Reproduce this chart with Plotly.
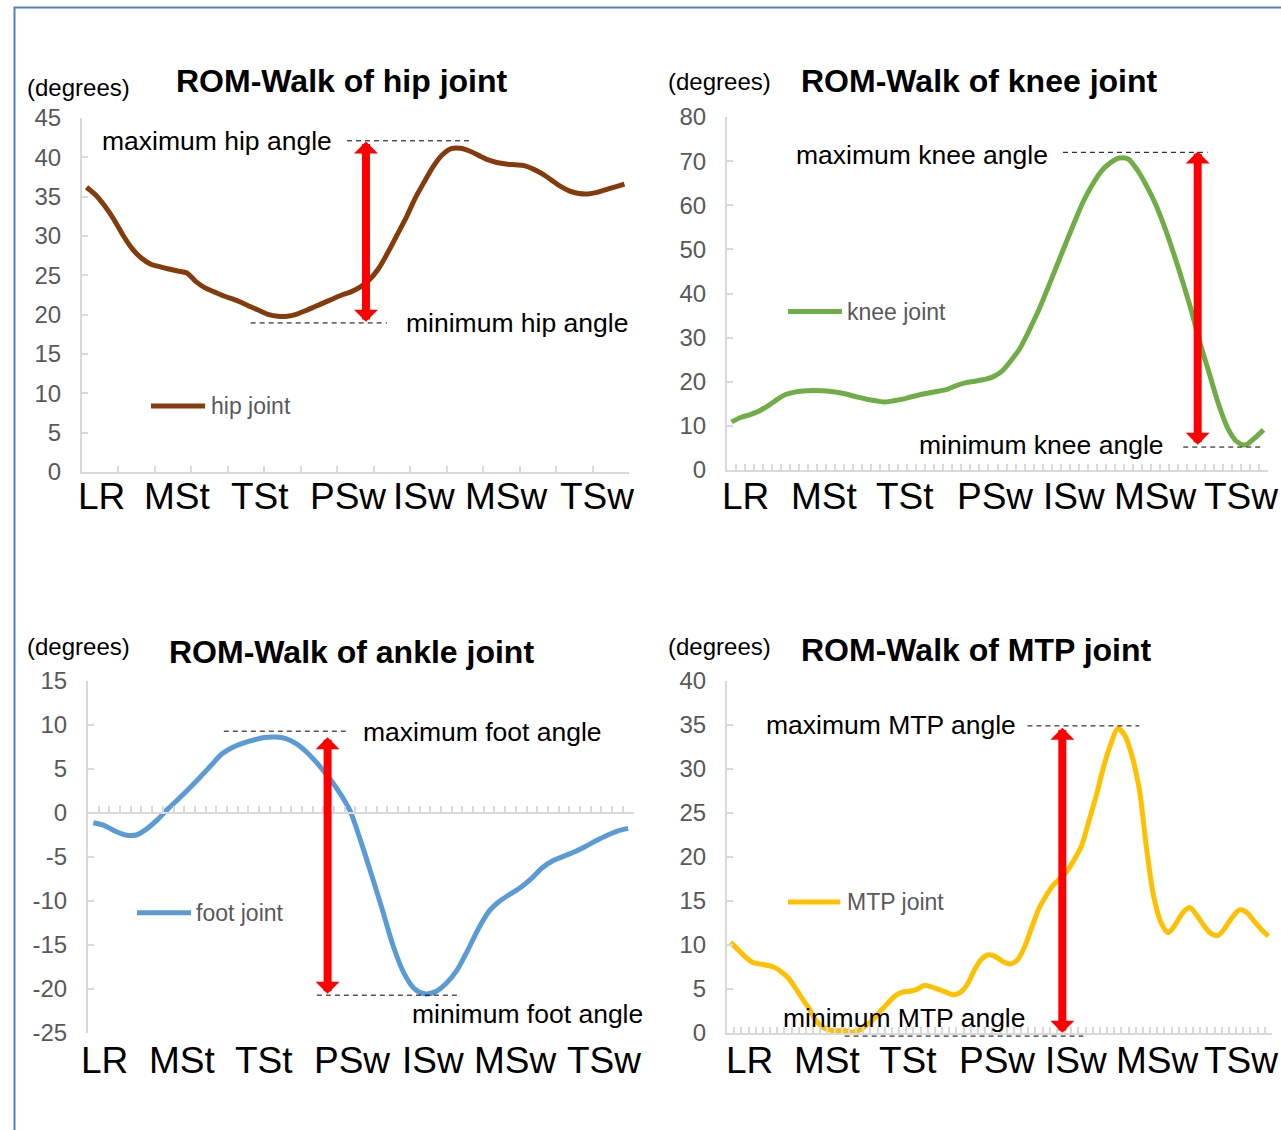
import plotly.graph_objects as go

W, H = 1281, 1130
FONT = "Liberation Sans, Arial, sans-serif"
AXIS_GREY = "#d9d9d9"
TICK_GREY = "#595959"
ARROW_RED = "#ff0000"

# gait phases written under every horizontal axis
PHASES = ["LR", "MSt", "TSt", "PSw", "ISw", "MSw", "TSw"]

# joint angles (degrees) over one gait cycle
HIP = [36.2, 35.2, 33.8, 32.1, 30.1, 28.4, 27.2, 26.45, 26.1, 25.8,
       25.55, 25.3, 24.2, 23.4, 22.9, 22.4, 22.0, 21.55, 21.0, 20.5,
       20.0, 19.8, 19.8, 20.05, 20.5, 21.0, 21.5, 22.0, 22.5, 22.9,
       23.5, 24.4, 25.8, 27.8, 30.0, 32.2, 34.7, 36.8, 38.8, 40.3,
       41.1, 41.15, 40.8, 40.25, 39.7, 39.35, 39.15, 39.05, 38.95, 38.5,
       37.9, 37.1, 36.3, 35.7, 35.4, 35.35, 35.55, 35.9, 36.25, 36.6]

KNEE = [10.9, 11.9, 12.5, 13.3, 14.5, 15.9, 17.1, 17.65, 17.9, 18.0,
        17.95, 17.8, 17.5, 17.05, 16.5, 16.05, 15.7, 15.4, 15.7, 16.05,
        16.6, 17.1, 17.5, 17.9, 18.35, 19.2, 19.8, 20.1, 20.5, 21.1,
        22.4, 24.8, 27.6, 31.6, 35.9, 40.8, 45.9, 51.0, 56.0, 60.8,
        64.6, 67.7, 69.6, 70.7, 70.5, 68.0, 64.5, 60.4, 55.2, 49.3,
        42.9, 36.1, 28.5, 21.8, 15.0, 9.6, 6.5, 5.7, 7.2, 9.1]

ANKLE = [-1.1, -1.4, -2.05, -2.5, -2.5, -1.8, -0.76, 0.5, 1.65, 2.85,
         4.1, 5.4, 6.7, 7.45, 7.95, 8.3, 8.57, 8.63, 8.45, 7.85,
         6.85, 5.55, 4.05, 2.35, 0.25, -3.2, -7.0, -10.9, -15.0, -18.1,
         -19.95, -20.55, -20.3, -19.35, -17.85, -15.6, -13.15, -11.15, -10.0, -9.2,
         -8.4, -7.4, -6.2, -5.4, -4.9, -4.4, -3.8, -3.15, -2.55, -2.05,
         -1.75]

MTP = [10.3, 9.5, 8.7, 8.05, 7.85, 7.7, 7.5, 7.0, 6.3, 5.15,
       3.9, 2.7, 1.3, 0.6, 0.3, 0.25, 0.25, 0.1, 0.35, 0.9,
       1.65, 2.6, 3.45, 4.25, 4.65, 4.75, 4.95, 5.4, 5.25, 4.95,
       4.65, 4.35, 4.6, 5.5, 7.15, 8.4, 8.9, 8.65, 8.1, 7.85,
       8.3, 9.8, 12.0, 14.15, 15.6, 16.8, 17.6, 18.5, 19.8, 21.4,
       24.2, 27.0, 30.2, 32.8, 34.6, 33.8, 31.4, 27.7, 21.0, 15.5,
       12.6, 11.4, 12.3, 13.6, 14.25, 13.4, 12.2, 11.3, 11.1, 12.0,
       13.2, 14.0, 13.7, 12.7, 11.8, 11.0]

# range-of-motion markers (degrees) for each joint: (minimum level, maximum level)
HIP_ROM = (18.95, 42.1)
KNEE_ROM = (5.2, 72.0)
ANKLE_ROM = (-20.7, 9.3)
MTP_ROM = (-0.35, 34.9)

# panel layout: plot box in pixels (left, top, right, bottom) and label placement
PANELS = [
    dict(title="ROM-Walk of hip joint", values=HIP, color="#843C0C", name="hip joint",
         joint="hip", rom=HIP_ROM, box=(82, 118, 629, 472), yrange=(0, 45), dtick=5, xstep=4,
         title_xy=(342, 81), deg_xy=(78, 88),
         phase_y=497, phase_x=[101, 178, 260, 348, 424, 506, 597],
         max_text=(1.97, 42.1), min_text=(35.3, 19.0),
         arrow_x=31.15, arrow_tips=(18.9, 42.0),
         max_dash=(29.07, 42.9), min_dash=(18.5, 33.45),
         legend_line=(7.57, 13.5, 8.39), legend_text_x=13.9),
    dict(title="ROM-Walk of knee joint", values=KNEE, color="#70AD47", name="knee joint",
         joint="knee", rom=KNEE_ROM, box=(727, 117, 1268, 470), yrange=(0, 80), dtick=10, xstep=1,
         title_xy=(979, 81), deg_xy=(719, 82),
         phase_y=496, phase_x=[745, 824, 905, 995, 1074, 1155, 1241],
         max_text=(7.43, 71.4), min_text=(21.07, 5.67),
         arrow_x=52.2, arrow_tips=(5.4, 72.2),
         max_dash=(37.26, 53.3), min_dash=(50.6, 59.5),
         legend_line=(6.77, 12.75, 35.9), legend_text_x=13.1),
    dict(title="ROM-Walk of ankle joint", values=ANKLE, color="#5B9BD5", name="foot joint",
         joint="foot", rom=ANKLE_ROM, box=(88, 681, 633.5, 1033), yrange=(-25, 15), dtick=5, xstep=1,
         title_xy=(351, 652), deg_xy=(78, 646),
         phase_y=1060, phase_x=[104, 182.5, 264, 352, 433, 515, 604],
         max_text=(25.5, 9.2), min_text=(30.1, -22.84),
         arrow_x=22.4, arrow_tips=(-20.7, 8.6),
         max_dash=(12.7, 24.1), min_dash=(21.4, 34.8),
         legend_line=(4.58, 9.63, -11.33), legend_text_x=9.9),
    dict(title="ROM-Walk of MTP joint", values=MTP, color="#FFC000", name="MTP joint",
         joint="MTP", rom=MTP_ROM, box=(727, 681, 1272, 1033), yrange=(0, 40), dtick=5, xstep=1,
         title_xy=(976, 650), deg_xy=(719, 646),
         phase_y=1060, phase_x=[749, 827, 908, 997, 1076, 1157, 1241],
         max_text=(5.15, 35.0), min_text=(7.53, 1.65),
         arrow_x=46.76, arrow_tips=(-0.15, 34.7),
         max_dash=(41.9, 57.5), min_dash=(16.4, 49.7),
         legend_line=(8.5, 15.8, 14.9), legend_text_x=16.5),
]


def px_x(px):
    return px / W


def px_y(py):
    return 1 - py / H


fig = go.Figure()
annotations = []
shapes = []
layout_axes = {}

for k, p in enumerate(PANELS, start=1):
    sfx = "" if k == 1 else str(k)
    xa, ya = "x" + sfx, "y" + sfx
    vals = p["values"]
    n = len(vals)
    xs = [i + 0.5 for i in range(n)]

    fig.add_trace(go.Scatter(
        x=xs, y=vals, mode="lines", name=p["name"], showlegend=False,
        line=dict(color=p["color"], width=5, shape="spline", smoothing=0.8),
        xaxis=xa, yaxis=ya,
    ))

    left, top, right, bottom = p["box"]
    xdom = [px_x(left), px_x(right)]
    ydom = [px_y(bottom), px_y(top)]
    lo, hi = p["yrange"]

    xaxis = dict(domain=xdom, range=[0, n], tickmode="array",
                 tickvals=list(range(0, n + 1, p["xstep"])),
                 ticks="inside", ticklen=6, tickwidth=1.5, tickcolor=AXIS_GREY,
                 showline=True, linecolor=AXIS_GREY, linewidth=2, automargin=False,
                 showticklabels=False, showgrid=False, zeroline=False, fixedrange=True)
    if lo < 0:
        # horizontal axis crosses at zero degrees
        xaxis.update(anchor="free",
                     position=ydom[0] + (0 - lo) / (hi - lo) * (ydom[1] - ydom[0]))
    else:
        xaxis.update(anchor=ya)
    yticks = list(range(lo, hi + 1, p["dtick"]))
    yaxis = dict(domain=ydom, range=[lo, hi], anchor=xa,
                 tickmode="array", tickvals=yticks, ticktext=[str(v) for v in yticks],
                 ticks="inside", ticklen=6, tickwidth=1.5, tickcolor=AXIS_GREY,
                 showline=True, linecolor=AXIS_GREY, linewidth=2, automargin=False,
                 tickfont=dict(family=FONT, size=24, color=TICK_GREY),
                 ticklabelstandoff=14,
                 showgrid=False, zeroline=False, fixedrange=True)
    layout_axes["xaxis" + sfx] = xaxis
    layout_axes["yaxis" + sfx] = yaxis

    # title and unit
    annotations.append(dict(text="<b>%s</b>" % p["title"], x=px_x(p["title_xy"][0]),
                            y=px_y(p["title_xy"][1]), xref="paper", yref="paper",
                            xanchor="center", yanchor="middle", showarrow=False,
                            font=dict(family=FONT, size=32, color="black")))
    annotations.append(dict(text="(degrees)", x=px_x(p["deg_xy"][0]), y=px_y(p["deg_xy"][1]),
                            xref="paper", yref="paper", xanchor="center", yanchor="middle",
                            showarrow=False, font=dict(family=FONT, size=24, color="black")))

    # gait phase names
    for name, cx in zip(PHASES, p["phase_x"]):
        annotations.append(dict(text=name, x=px_x(cx), y=px_y(p["phase_y"]),
                                xref="paper", yref="paper", xanchor="center",
                                yanchor="middle", showarrow=False,
                                font=dict(family=FONT, size=37, color="black")))

    # max / min labels
    annotations.append(dict(text="maximum %s angle" % p["joint"], x=p["max_text"][0],
                            y=p["max_text"][1], xref=xa, yref=ya, xanchor="left",
                            yanchor="middle", showarrow=False,
                            font=dict(family=FONT, size=26.5, color="black")))
    annotations.append(dict(text="minimum %s angle" % p["joint"], x=p["min_text"][0],
                            y=p["min_text"][1], xref=xa, yref=ya, xanchor="left",
                            yanchor="middle", showarrow=False,
                            font=dict(family=FONT, size=26.5, color="black")))

    # dashed reference levels
    rmin, rmax = p["rom"]
    for (dx0, dx1), level in ((p["max_dash"], rmax), (p["min_dash"], rmin)):
        fy = (level - lo) / (hi - lo)
        shapes.append(dict(type="line", xref=xa, yref=ya + " domain",
                           x0=dx0, x1=dx1, y0=fy, y1=fy,
                           line=dict(color="black", width=1, dash="5px,4px")))

    # double-headed range arrow
    a_lo, a_hi = p["arrow_tips"]
    annotations.append(dict(text="", x=p["arrow_x"], y=a_hi, ax=p["arrow_x"], ay=a_lo,
                            xref=xa, yref=ya, axref=xa, ayref=ya, showarrow=True,
                            arrowside="end+start", arrowhead=1, startarrowhead=1,
                            arrowsize=0.5, startarrowsize=0.5, arrowwidth=8,
                            arrowcolor=ARROW_RED, standoff=0, startstandoff=0))

    # legend sample
    lx0, lx1, ly = p["legend_line"]
    shapes.append(dict(type="line", xref=xa, yref=ya, x0=lx0, x1=lx1, y0=ly, y1=ly,
                       line=dict(color=p["color"], width=5)))
    annotations.append(dict(text=p["name"], x=p["legend_text_x"], y=ly, xref=xa, yref=ya,
                            xanchor="left", yanchor="middle", showarrow=False,
                            font=dict(family=FONT, size=23, color=TICK_GREY)))

# outer frame
shapes.append(dict(type="rect", xref="paper", yref="paper",
                   x0=px_x(14.5), x1=1.05, y0=-0.05, y1=px_y(7.5),
                   line=dict(color="#4F81BD", width=2), layer="above"))

fig.update_layout(
    template="none",
    width=W, height=H, autosize=False,
    margin=dict(l=0, r=0, t=0, b=0, pad=0, autoexpand=False),
    paper_bgcolor="white", plot_bgcolor="white",
    font=dict(family=FONT),
    annotations=annotations, shapes=shapes,
    showlegend=False,
    **layout_axes,
)

fig.write_html("out.html")
